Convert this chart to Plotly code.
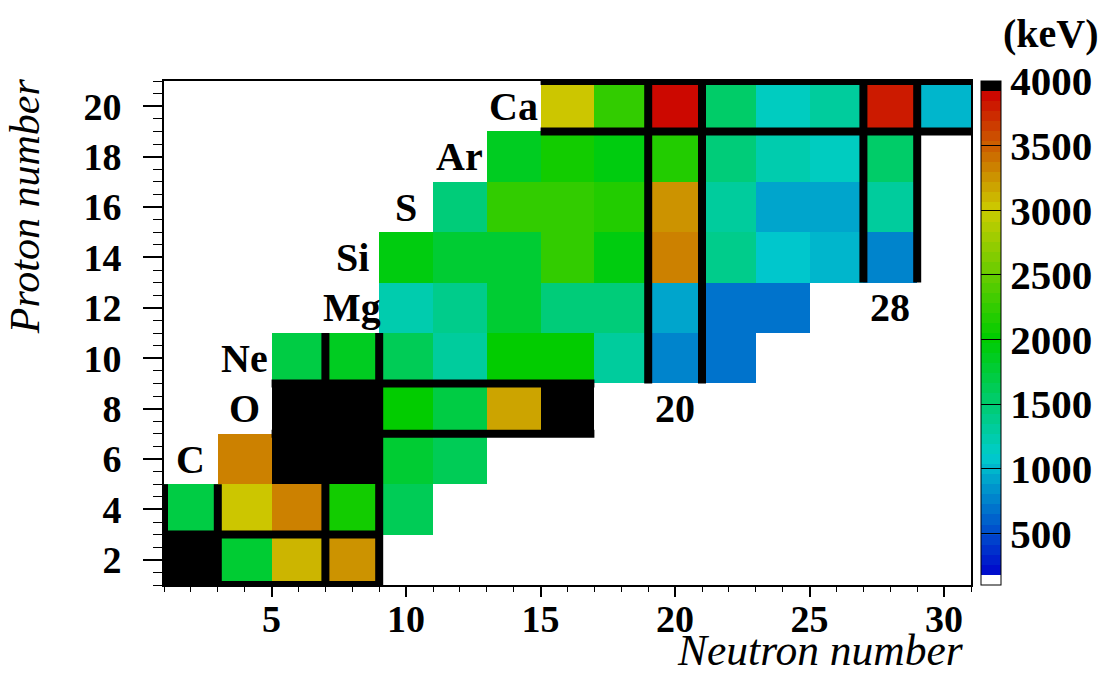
import numpy as np
import plotly.graph_objects as go

# First 2+ excitation energies (keV) of even-even nuclei, one pair of lists per element:
# neutron numbers and the matching energies.
he_n = [2, 4, 6, 8]
he_e = [27420, 1797, 3100, 3240]
be_n = [2, 4, 6, 8, 10]
be_e = [1670, 3030, 3368, 2109, 1590]
c_n = [4, 6, 8, 10, 12]
c_e = [3354, 4439, 7012, 1766, 1588]
o_n = [6, 8, 10, 12, 14, 16]
o_e = [6590, 6917, 1982, 1674, 3199, 4790]
ne_n = [6, 8, 10, 12, 14, 16, 18, 20, 22]
ne_e = [1690, 1887, 1634, 1275, 1982, 2018, 1293, 792, 722]
mg_n = [10, 12, 14, 16, 18, 20, 22, 24]
mg_e = [1247, 1369, 1809, 1474, 1483, 885, 660, 660]
si_n = [10, 12, 14, 16, 18, 20, 22, 24, 26, 28]
si_e = [1960, 1797, 1779, 2235, 1941, 3328, 1408, 1084, 986, 770]
s_n = [12, 14, 16, 18, 20, 22, 24, 26, 28]
s_e = [1497, 2211, 2230, 2128, 3291, 1292, 904, 890, 1329]
ar_n = [14, 16, 18, 20, 22, 24, 26, 28]
ar_e = [1824, 2091, 1970, 2168, 1461, 1208, 1158, 1554]
ca_n = [16, 18, 20, 22, 24, 26, 28, 30]
ca_e = [3036, 2206, 3904, 1525, 1157, 1346, 3832, 1027]

proton_numbers = [2, 4, 6, 8, 10, 12, 14, 16, 18, 20]
rows_n = [he_n, be_n, c_n, o_n, ne_n, mg_n, si_n, s_n, ar_n, ca_n]
rows_e = [he_e, be_e, c_e, o_e, ne_e, mg_e, si_e, s_e, ar_e, ca_e]

# Element symbols written next to each isotopic chain (label position in N, Z)
elem_labels = ["C", "O", "Ne", "Mg", "Si", "S", "Ar", "Ca"]
elem_label_n = [2, 4, 4, 8, 8, 10, 12, 14]
elem_label_z = [6, 8, 10, 12, 14, 16, 18, 20]

# Magic numbers: shell-closure lines bracket each magic chain
magic_n = [2, 8, 20, 28]
magic_n_zspan = [(1, 5), (1, 11), (9, 21), (13, 21)]
magic_z = [2, 8, 20]
magic_z_nspan = [(1, 9), (5, 17), (15, 31)]
magic_labels = ["20", "28"]
magic_label_n = [20, 28]
magic_label_z = [8, 12]

# Colour-bar ticks
cbar_ticks = [500, 1000, 1500, 2000, 2500, 3000, 3500, 4000]

# ---- grid ---------------------------------------------------------------
n_centers = list(range(2, 31, 2))
z_centers = proton_numbers
grid = [[None] * len(n_centers) for _ in z_centers]
for iz, (ns, es) in enumerate(zip(rows_n, rows_e)):
    for n, e in zip(ns, es):
        grid[iz][n_centers.index(n)] = e

# ---- palette: 50 discrete levels, white floor, black ceiling ------------
ZMIN, ZMAX, NLEV = 100, 4000, 50
stop_v = [150, 1100, 2000, 3000, 3920]
stop_rgb = np.array([(0, 0, 204), (0, 204, 204), (0, 204, 0), (204, 204, 0), (204, 0, 0)], float)
width = (ZMAX - ZMIN) / NLEV
colorscale = []
for i in range(NLEV):
    if i == 0:
        col = "rgb(255,255,255)"
    elif i == NLEV - 1:
        col = "rgb(0,0,0)"
    else:
        v = ZMIN + (i + 0.5) * width
        r, g, b = (np.interp(v, stop_v, stop_rgb[:, k]) for k in range(3))
        col = f"rgb({int(round(r))},{int(round(g))},{int(round(b))})"
    colorscale.append([i / NLEV, col])
    colorscale.append([(i + 1) / NLEV, col])

SERIF = "Liberation Serif"

fig = go.Figure()
fig.add_trace(go.Heatmap(
    x=n_centers, y=z_centers, z=grid,
    zmin=ZMIN, zmax=ZMAX, colorscale=colorscale,
    xgap=0, ygap=0, hoverongaps=False,
    colorbar=dict(
        x=1.0124, xanchor="left", xpad=0, ypad=0,
        y=0.5, yanchor="middle", len=1, lenmode="fraction",
        thickness=20, thicknessmode="pixels",
        outlinewidth=1, outlinecolor="black",
        tickvals=cbar_ticks, ticks="inside", ticklen=20,
        tickwidth=1, tickcolor="black",
        tickfont=dict(family=SERIF, size=41, color="black", weight="bold"),
    ),
))

# shell-closure lines
shapes = []
for n, (z0, z1) in zip(magic_n, magic_n_zspan):
    for xv in (n - 1, n + 1):
        shapes.append(dict(type="line", xref="x", yref="y", x0=xv, x1=xv, y0=z0, y1=z1,
                           line=dict(color="black", width=8), layer="above"))
for z, (n0, n1) in zip(magic_z, magic_z_nspan):
    for yv in (z - 1, z + 1):
        shapes.append(dict(type="line", xref="x", yref="y", x0=n0, x1=n1, y0=yv, y1=yv,
                           line=dict(color="black", width=8), layer="above"))

annotations = []
for t, n, z in zip(elem_labels, elem_label_n, elem_label_z):
    annotations.append(dict(text=t, x=n, y=z, xref="x", yref="y", showarrow=False,
                            xanchor="center", yanchor="middle",
                            font=dict(family=SERIF, size=40, color="black", weight="bold")))
for t, n, z in zip(magic_labels, magic_label_n, magic_label_z):
    annotations.append(dict(text=t, x=n, y=z, xref="x", yref="y", showarrow=False,
                            xanchor="center", yanchor="middle",
                            font=dict(family=SERIF, size=40, color="black", weight="bold")))
annotations.append(dict(text="Neutron number", x=0.994, y=-0.128, xref="paper", yref="paper",
                        showarrow=False, xanchor="right", yanchor="middle",
                        font=dict(family=SERIF, size=43.5, color="black", style="italic")))
annotations.append(dict(text="Proton number", x=-0.172, y=1.01, xref="paper", yref="paper",
                        showarrow=False, xanchor="center", yanchor="top", textangle=-90,
                        font=dict(family=SERIF, size=42, color="black", style="italic")))
annotations.append(dict(text="(keV)", x=1.099, y=1.095, xref="paper", yref="paper",
                        showarrow=False, xanchor="center", yanchor="middle",
                        font=dict(family=SERIF, size=40, color="black", weight="bold")))

tickfont = dict(family=SERIF, size=38, color="black", weight="bold")
fig.update_layout(
    width=1108, height=681,
    margin=dict(l=164, r=137, t=81, b=96, autoexpand=False),
    paper_bgcolor="white", plot_bgcolor="white",
    shapes=shapes, annotations=annotations,
    xaxis=dict(range=[1, 31], tickvals=[5, 10, 15, 20, 25, 30], ticks="outside",
               ticklen=10, tickwidth=1.5, tickcolor="black", ticklabelstandoff=-11,
               minor=dict(dtick=1, tick0=1, ticklen=5, ticks="outside", tickcolor="black", tickwidth=1),
               showline=True, linecolor="black", linewidth=2, mirror=True,
               showgrid=False, zeroline=False, tickfont=tickfont, automargin=False),
    yaxis=dict(range=[1, 21], tick0=2, dtick=2, ticks="outside",
               ticklen=19, tickwidth=1.5, tickcolor="black", ticklabelstandoff=14,
               minor=dict(dtick=0.5, tick0=1, ticklen=9, ticks="outside", tickcolor="black", tickwidth=1),
               showline=True, linecolor="black", linewidth=2, mirror=True,
               showgrid=False, zeroline=False, tickfont=tickfont, automargin=False),
)

fig.write_html("out.html")
